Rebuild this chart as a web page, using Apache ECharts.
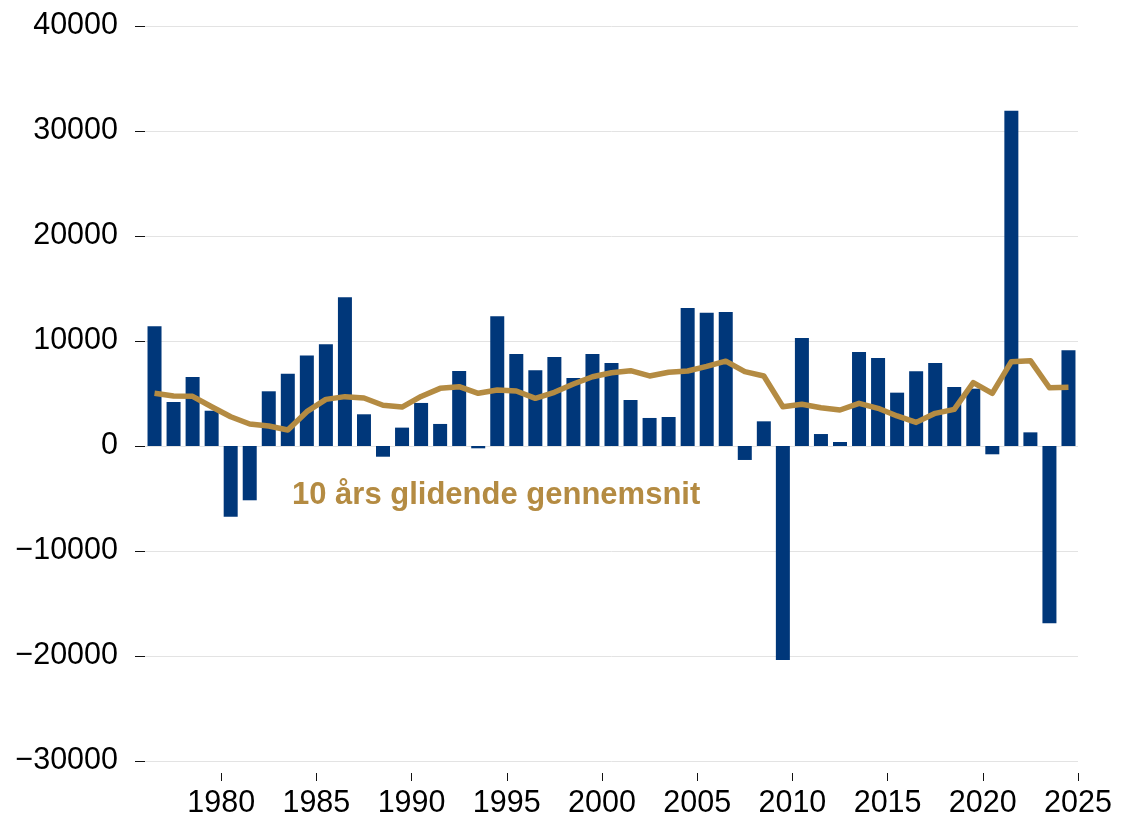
<!DOCTYPE html>
<html>
<head>
<meta charset="utf-8">
<script src="https://cdn.jsdelivr.net/npm/echarts@6/dist/echarts.min.js"></script>
<style>
html,body{margin:0;padding:0;background:#fff;}
#chart{width:1136px;height:819px;}
</style>
</head>
<body>
<div id="chart"></div>
<script>
var years = [1976,1977,1978,1979,1980,1981,1982,1983,1984,1985,1986,1987,1988,1989,1990,1991,1992,1993,1994,1995,1996,1997,1998,1999,2000,2001,2002,2003,2004,2005,2006,2007,2008,2009,2010,2011,2012,2013,2014,2015,2016,2017,2018,2019,2020,2021,2022,2023,2024];
var annualValues = [11400,4190,6570,3360,-6730,-5170,5210,6890,8630,9680,14160,3020,-1020,1750,4100,2100,7140,-220,12350,8760,7210,8480,6480,8760,7900,4380,2670,2760,13140,12700,12760,-1330,2350,-20380,10290,1140,380,8950,8380,5080,7110,7900,5620,5460,-790,31930,1300,-16890,9110];
var movingAverage = [5020,4760,4730,3740,2790,2100,1900,1520,3270,4440,4700,4570,3880,3710,4720,5490,5650,5020,5330,5240,4540,5110,5900,6600,6980,7170,6670,7020,7140,7580,8080,7080,6670,3740,3970,3650,3430,4060,3590,2860,2250,3110,3490,6030,5020,8030,8130,5550,5590];
var yTicks = {min: -30000, max: 40000, interval: 10000};
var xTickYears = [1980,1985,1990,1995,2000,2005,2010,2015,2020,2025];
var lineLabel = '10 års glidende gennemsnit';

var chart = echarts.init(document.getElementById('chart'), null, {renderer: 'canvas'});
var font = '"Liberation Sans", Arial, sans-serif';
chart.setOption({
  animation: false,
  backgroundColor: '#ffffff',
  grid: {left: 145, right: 58, top: 26, bottom: 58, containLabel: false},
  xAxis: [
    {
      type: 'category',
      data: years.map(String),
      boundaryGap: true,
      show: false
    },
    {
      type: 'value',
      position: 'bottom',
      offset: 12,
      min: years[0],
      max: years[years.length - 1] + 1,
      axisLine: {show: false},
      splitLine: {show: false},
      axisTick: {show: true, length: 8, lineStyle: {color: '#111', width: 1}, customValues: xTickYears},
      axisLabel: {show: true, customValues: xTickYears, margin: 15, fontSize: 30.5, color: '#000', fontFamily: font,
        formatter: function (v) { return String(v); }}
    }
  ],
  yAxis: {
    type: 'value',
    min: yTicks.min,
    max: yTicks.max,
    interval: yTicks.interval,
    axisLine: {show: false},
    axisTick: {show: true, length: 10, lineStyle: {color: '#111', width: 1}},
    axisLabel: {margin: 27, fontSize: 30.5, color: '#000', fontFamily: font,
      formatter: function (v) { return (v < 0 ? '\u2212' : '') + String(Math.abs(v)); }},
    splitLine: {show: true, lineStyle: {color: '#e3e3e3', width: 1}}
  },
  series: [
    {
      type: 'bar',
      xAxisIndex: 0,
      data: annualValues,
      barWidth: 14,
      itemStyle: {color: '#00377a'},
      z: 2
    },
    {
      type: 'line',
      xAxisIndex: 0,
      data: movingAverage,
      symbol: 'none',
      smooth: false,
      lineStyle: {color: '#b48b42', width: 5.5, cap: 'butt', join: 'round'},
      z: 3
    }
  ],
  graphic: [
    {
      type: 'text',
      left: 292,
      top: 480,
      style: {text: lineLabel, fill: '#b48b42', font: 'bold 31px "Liberation Sans", Arial, sans-serif'}
    }
  ]
});
</script>
</body>
</html>
